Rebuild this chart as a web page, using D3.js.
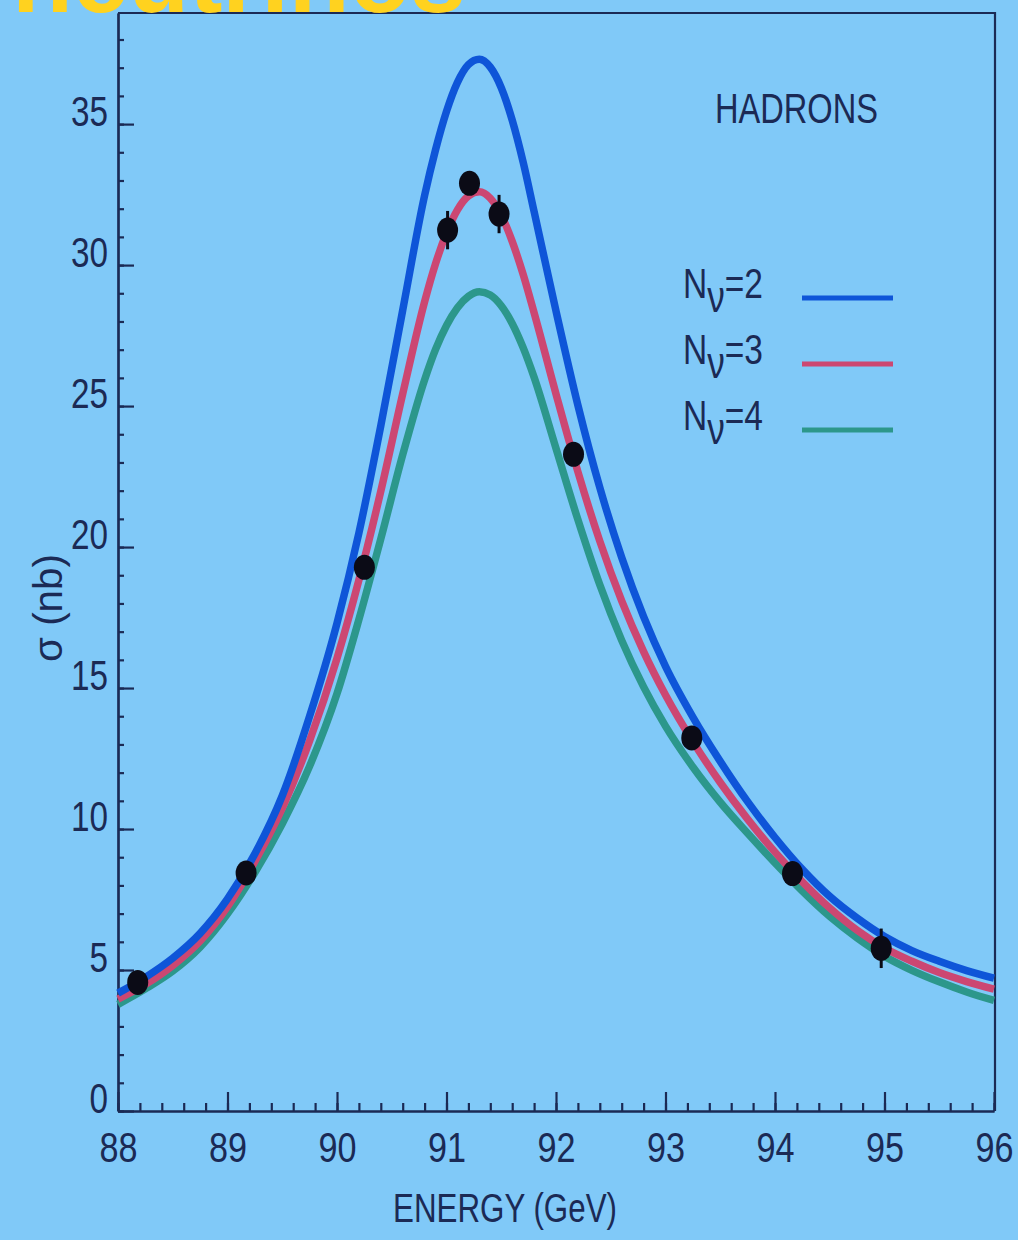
<!DOCTYPE html>
<html><head><meta charset="utf-8">
<script src="https://cdn.jsdelivr.net/npm/d3@7"></script>
<style>html,body{margin:0;padding:0;background:#80c9f8;} svg{display:block}</style>
</head><body>
<svg id="chart" width="1018" height="1240"></svg>
<script>
// ---- data ----
const energies = [88.0, 88.25, 88.5, 88.75, 89.0, 89.25, 89.5, 89.75, 90.0, 90.2, 90.4, 90.6, 90.8, 90.9, 91.0, 91.1, 91.2, 91.3, 91.4, 91.5, 91.6, 91.7, 91.8, 92.0, 92.2, 92.4, 92.6, 92.8, 93.0, 93.25, 93.5, 93.75, 94.0, 94.25, 94.5, 94.75, 95.0, 95.25, 95.5, 95.75, 96.0];
const sigmaN2 = [4.18, 4.74, 5.42, 6.30, 7.52, 9.12, 11.18, 14.0, 17.3, 20.5, 24.3, 28.4, 32.47, 34.09, 35.45, 36.48, 37.11, 37.30, 37.02, 36.29, 35.14, 33.65, 31.90, 28.37, 25.03, 22.11, 19.63, 17.53, 15.77, 13.97, 12.40, 10.97, 9.70, 8.57, 7.61, 6.84, 6.19, 5.69, 5.31, 4.98, 4.71];
const sigmaN3 = [3.97, 4.49, 5.16, 6.03, 7.25, 8.85, 10.74, 13.13, 16.05, 18.83, 21.98, 25.43, 28.70, 30.05, 31.14, 31.96, 32.45, 32.60, 32.37, 31.77, 30.84, 29.67, 28.31, 25.43, 22.67, 20.21, 18.09, 16.29, 14.75, 13.10, 11.65, 10.35, 9.18, 8.13, 7.20, 6.41, 5.78, 5.31, 4.91, 4.59, 4.32];
const sigmaN4 = [3.78, 4.33, 4.96, 5.81, 6.99, 8.46, 10.19, 12.23, 14.80, 17.43, 20.29, 23.27, 25.93, 27.01, 27.86, 28.49, 28.89, 29.05, 28.94, 28.56, 27.93, 27.07, 26.02, 23.50, 20.97, 18.66, 16.69, 15.04, 13.65, 12.20, 10.95, 9.85, 8.80, 7.80, 6.90, 6.14, 5.49, 4.99, 4.58, 4.22, 3.92];
const dataEnergy = [88.18, 89.17, 90.25, 91.01, 91.21, 91.48, 92.16, 93.24, 94.16, 94.97];
const dataSigma  = [4.56, 8.44, 19.28, 31.24, 32.90, 31.81, 23.29, 13.23, 8.42, 5.77];
const dataError  = [0.3, 0.3, 0.35, 0.68, 0.4, 0.68, 0.4, 0.35, 0.3, 0.7];
const xTicks = [88, 89, 90, 91, 92, 93, 94, 95, 96];
const yTicks = [0, 5, 10, 15, 20, 25, 30, 35];
const legendNu = ["2", "3", "4"];
const titleText = "neutrinos";
const panelText = "HADRONS";
const xTitle = "ENERGY (GeV)";
const yTitle = "σ (nb)";

// ---- drawing ----
const W = 1018, H = 1240;
const ink = "#1b2a55";
const colors = ["#0e55d8", "#cc4772", "#2c978b"];
const font = "'Liberation Sans', Arial, sans-serif";
const svg = d3.select("#chart");
svg.append("rect").attr("width", W).attr("height", H).attr("fill", "#80c9f8");

const x = d3.scaleLinear().domain([88, 96]).range([118, 994]);
const y = d3.scaleLinear().domain([0, 38.94]).range([1111, 13]);

function styleAxis(g) {
  g.selectAll("path,line").attr("stroke", ink).attr("stroke-width", 2.2);
}

// y minor ticks
const yMinor = d3.range(0, 39, 1);
svg.append("g").attr("transform", "translate(118,0)")
  .call(d3.axisLeft(y).tickValues(yMinor).tickSize(-6).tickSizeOuter(0).tickFormat(""))
  .call(styleAxis);
// y major ticks + labels
const gy = svg.append("g").attr("transform", "translate(118,0)")
  .call(d3.axisLeft(y).tickValues(yTicks).tickSize(-16).tickSizeOuter(0).tickPadding(10).tickFormat(d3.format("d")))
  .call(styleAxis);
gy.selectAll("text")
  .attr("dy", 1).attr("fill", ink)
  .style("font-family", font).style("font-size", "42px")
  .attr("textLength", d => String(d).length * 18.5).attr("lengthAdjust", "spacingAndGlyphs");

// x minor ticks
const xMinor = d3.range(0, 41).map(i => 88 + i * 0.2);
svg.append("g").attr("transform", "translate(0,1111)")
  .call(d3.axisBottom(x).tickValues(xMinor).tickSize(-8).tickSizeOuter(0).tickFormat(""))
  .call(styleAxis);
const gx = svg.append("g").attr("transform", "translate(0,1111)")
  .call(d3.axisBottom(x).tickValues(xTicks).tickSize(-19).tickSizeOuter(0).tickFormat(d3.format("d")))
  .call(styleAxis);
gx.selectAll("text")
  .attr("y", 51).attr("dy", 0).attr("fill", ink)
  .style("font-family", font).style("font-size", "42px")
  .attr("textLength", 38).attr("lengthAdjust", "spacingAndGlyphs");

// frame top/right
svg.append("path")
  .attr("d", `M${x(88)},${y(38.94)}H${x(96) + 1}V${y(0)}`)
  .attr("fill", "none").attr("stroke", ink).attr("stroke-width", 2.2);

// axis titles
svg.append("text").text(xTitle)
  .attr("x", 393).attr("y", 1222).attr("fill", ink)
  .style("font-family", font).style("font-size", "41px")
  .attr("textLength", 224).attr("lengthAdjust", "spacingAndGlyphs");
svg.append("text").text(yTitle)
  .attr("transform", "translate(62,608) rotate(-90)")
  .attr("text-anchor", "middle").attr("fill", ink)
  .style("font-family", font).style("font-size", "40px")
  .attr("textLength", 108).attr("lengthAdjust", "spacingAndGlyphs");

// panel label
svg.append("text").text(panelText)
  .attr("x", 715).attr("y", 123).attr("fill", ink)
  .style("font-family", font).style("font-size", "42px")
  .attr("textLength", 163).attr("lengthAdjust", "spacingAndGlyphs");

// curves
const series = [sigmaN4, sigmaN3, sigmaN2];
const seriesColors = [colors[2], colors[1], colors[0]];
const line = d3.line().x(d => x(d[0])).y(d => y(d[1])).curve(d3.curveMonotoneX);
series.forEach((s, i) => {
  svg.append("path")
    .attr("d", line(energies.map((e, k) => [e, s[k]])))
    .attr("fill", "none").attr("stroke", seriesColors[i]).attr("stroke-width", 7.5);
});

// legend
legendNu.forEach((n, i) => {
  const yb = 298 + 66 * i;
  const t = svg.append("text").attr("x", 683).attr("y", yb).attr("fill", ink)
    .style("font-family", font).style("font-size", "42px")
    .attr("textLength", 80).attr("lengthAdjust", "spacingAndGlyphs");
  t.append("tspan").text("N");
  t.append("tspan").text("ν").attr("dy", 14).style("font-size", "44px");
  t.append("tspan").text("=" + n).attr("dy", -14);
  svg.append("line").attr("x1", 802).attr("x2", 893).attr("y1", yb).attr("y2", yb)
    .attr("stroke", colors[i]).attr("stroke-width", 5);
});

// data points
const pts = dataEnergy.map((e, i) => ({e, s: dataSigma[i], err: dataError[i]}));
svg.append("g").selectAll("line").data(pts).join("line")
  .attr("x1", d => x(d.e)).attr("x2", d => x(d.e))
  .attr("y1", d => y(d.s - d.err)).attr("y2", d => y(d.s + d.err))
  .attr("stroke", "#0b0b16").attr("stroke-width", 3);
svg.append("g").selectAll("ellipse").data(pts).join("ellipse")
  .attr("cx", d => x(d.e)).attr("cy", d => y(d.s))
  .attr("rx", 10.5).attr("ry", 12.5).attr("fill", "#0b0b16");

// title (cut at the top edge)
svg.append("text").text(titleText)
  .attr("x", 12).attr("y", 12).attr("fill", "#ffd21f")
  .style("font-family", font).style("font-weight", "bold").style("font-size", "100px")
  .attr("textLength", 454).attr("lengthAdjust", "spacingAndGlyphs");
</script>
</body></html>
